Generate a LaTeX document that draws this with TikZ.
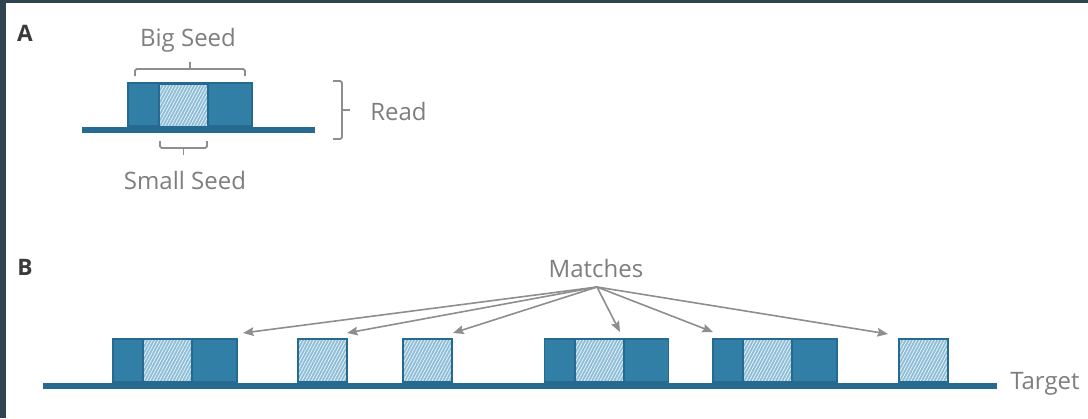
\documentclass[tikz,border=0pt]{standalone}
\usepackage{fontspec}
\setmainfont{Open Sans}
\usetikzlibrary{arrows.meta,patterns.meta}

\definecolor{framegray}{HTML}{2F4350}
\definecolor{seedblue}{HTML}{317EA7}
\definecolor{seededge}{HTML}{266A90}
\definecolor{hatchblue}{HTML}{8EBDD7}
\definecolor{textgray}{HTML}{7E7E7E}
\definecolor{arrowgray}{HTML}{8E8E8E}
\definecolor{headgray}{HTML}{3A3A3A}

\tikzset{
  lbl/.style={text=textgray, font=\fontsize{18}{20}\selectfont, inner sep=0pt},
  panel/.style={text=headgray, font=\fontsize{17}{19}\selectfont\bfseries, inner sep=0pt},
  bigbox/.style={draw=seededge, fill=seedblue, line width=1.4pt, minimum width=93pt, minimum height=32.25pt, inner sep=0pt, anchor=south},
  hatchbox/.style={draw=seededge, line width=1.5pt, preaction={fill=hatchblue},
    pattern={Lines[angle=62,distance=2.1pt,line width=0.6pt]}, pattern color=white!80!hatchblue,
    minimum width=36.75pt, minimum height=32.25pt, inner sep=0pt, anchor=south},
  strand/.style={draw=seededge, line width=4.5pt},
  bracket/.style={draw=arrowgray, line width=1.3pt, rounded corners=1.2pt},
  match/.style={draw=arrowgray, line width=1.2pt, -{Stealth[length=8pt,width=6.5pt,inset=1.2pt]}},
}

\begin{document}
\begin{tikzpicture}[x=0.75pt,y=-0.75pt]
\useasboundingbox (0,0) rectangle (1088,418);
\fill[framegray] (0,0) rectangle (1088,418);
\fill[white] (6,3) rectangle (1088,418);

% panel A: the read
\node[panel] (pa) at (25,33) {A};
\draw[strand] (82,130) -- (315,130);
\node[bigbox] (read) at (190,127) {};
\node[hatchbox] (small) at (183,127) {};

\node[lbl] (bigseed) at (188,40) {Big Seed};
\draw[bracket] (135,76) -- (135,69) -- (245,69) -- (245,76);
\draw[bracket] (190,69) -- (190,62);

\draw[bracket] (160,141) -- (160,148) -- (207,148) -- (207,141);
\draw[bracket] (183.5,148) -- (183.5,155);
\node[lbl] (smallseed) at (185,180) {Small Seed};

\draw[bracket] (333,81) -- (342,81) -- (342,139) -- (333,139);
\draw[bracket] (342,110) -- (350,110);
\node[lbl, anchor=west] (readlbl) at (370,111) {Read};

% panel B: the target
\node[panel] (pb) at (25,267) {B};
\draw[strand] (43,386) -- (997,386);
\node[lbl, anchor=west] (target) at (1010,384) {Target};

\foreach \c/\n in {175/m1, 606.5/m4, 775/m5}
  {
    \node[bigbox] (\n) at (\c,383) {};
    \node[hatchbox] at (\c-7.5,383) {};
  }
\foreach \c/\n in {322/m2, 427/m3, 923/m6}
  \node[hatchbox] (\n) at (\c,383) {};

\node[lbl] (matches) at (596,268) {Matches};
\coordinate (hub) at (597,287);
\coordinate (t1) at (243,333);
\coordinate (t2) at (347,333);
\coordinate (t3) at (453,333);
\coordinate (t4) at (620,332);
\coordinate (t5) at (713,332);
\coordinate (t6) at (888,334);
\foreach \t in {t1,t2,t3,t4,t5,t6}
  \draw[match] (hub) -- (\t);
\end{tikzpicture}
\end{document}
